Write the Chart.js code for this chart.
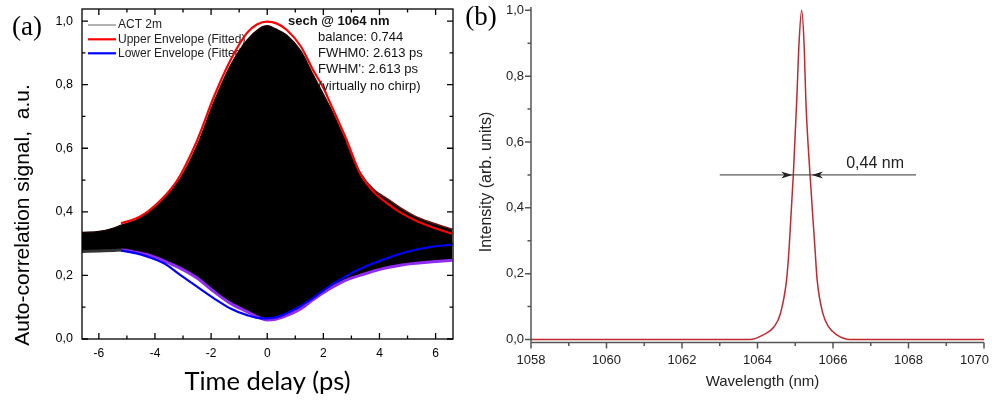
<!DOCTYPE html>
<html>
<head>
<meta charset="utf-8">
<script src="https://cdn.jsdelivr.net/npm/chart.js@4.4.0/dist/chart.umd.min.js"></script>
<style>
  html, body { margin: 0; padding: 0; background: #fff; }
  #wrap { position: relative; width: 992px; height: 402px; overflow: hidden; }
  #chartA { position: absolute; left: 0; top: 0; }
  #chartB { position: absolute; left: 460px; top: 0; }
</style>
</head>
<body>
<div id="wrap">
  <canvas id="chartA" width="460" height="402"></canvas>
  <canvas id="chartB" width="532" height="402"></canvas>
</div>
<script>
// (a) autocorrelation trace, delay in ps
const traceDelay  = [-6.6, -6.0, -5.5, -5.2, -4.7, -4.27, -3.79, -3.4, -3.09, -2.49, -1.9, -1.31, -0.72, -0.3, 0, 0.3, 0.7, 1.2, 1.64, 2.23, 2.83, 3.3, 3.8, 4.3, 4.8, 5.3, 5.9, 6.6];
const traceTop    = [0.335, 0.338, 0.348, 0.358, 0.372, 0.395, 0.43, 0.47, 0.505, 0.61, 0.745, 0.86, 0.94, 0.975, 0.985, 0.975, 0.955, 0.905, 0.83, 0.73, 0.615, 0.525, 0.47, 0.44, 0.41, 0.385, 0.365, 0.345];
const traceBottom = [0.275, 0.277, 0.278, 0.28, 0.273, 0.265, 0.25, 0.235, 0.222, 0.191, 0.149, 0.112, 0.086, 0.068, 0.06, 0.062, 0.074, 0.095, 0.124, 0.158, 0.186, 0.2, 0.214, 0.225, 0.233, 0.238, 0.243, 0.248];

const upperDelay = [-5.21, -4.7, -4.27, -3.79, -3.4, -3.09, -2.49, -1.9, -1.31, -0.72, -0.35, 0, 0.35, 0.7, 1.2, 1.64, 2.0, 2.23, 2.83, 3.3, 3.8, 4.3, 4.8, 5.3, 5.9, 6.6];
const upperFit   = [0.364, 0.378, 0.4, 0.437, 0.475, 0.516, 0.626, 0.762, 0.877, 0.963, 0.99, 0.998, 0.992, 0.972, 0.92, 0.845, 0.79, 0.745, 0.626, 0.522, 0.462, 0.425, 0.395, 0.372, 0.351, 0.331];

const lowerDelay = [-5.21, -4.7, -4.27, -3.68, -3.09, -2.49, -1.9, -1.31, -0.72, -0.2, 0.3, 1.11, 1.7, 2.29, 2.88, 3.47, 4.07, 4.66, 5.25, 5.84, 6.6];
const lowerFit   = [0.278, 0.27, 0.259, 0.238, 0.201, 0.164, 0.128, 0.096, 0.075, 0.065, 0.068, 0.1, 0.133, 0.17, 0.201, 0.227, 0.248, 0.266, 0.28, 0.29, 0.297];

const delayTicks  = [-6, -4, -2, 0, 2, 4, 6];
const delayMinor  = [-5, -3, -1, 1, 3, 5];
const signalTicks = [0, 0.2, 0.4, 0.6, 0.8, 1.0];
const signalMinor = [0.1, 0.3, 0.5, 0.7, 0.9];
const fitNotes = ['balance: 0.744', 'FWHM0: 2.613 ps', "FWHM': 2.613 ps", '(virtually no chirp)'];

// (b) spectrum
const wavelength = [1058, 1063.8, 1064.15, 1064.44, 1064.61, 1064.77, 1064.84, 1064.95, 1065.04, 1065.1, 1065.17, 1065.24, 1065.28, 1065.39, 1065.52, 1065.58, 1065.73, 1065.88, 1066.1, 1066.45, 1070];
const intensity  = [0, 0, 0.014, 0.039, 0.08, 0.181, 0.282, 0.503, 0.728, 0.9, 1.0, 0.88, 0.728, 0.503, 0.282, 0.181, 0.08, 0.039, 0.014, 0, 0];

const wlTicks  = [1058, 1060, 1062, 1064, 1066, 1068, 1070];
const wlMinor  = [1059, 1061, 1063, 1065, 1067, 1069];
const intTicks = [0, 0.2, 0.4, 0.6, 0.8, 1.0];
const intMinor = [0.1, 0.3, 0.5, 0.7, 0.9];

const fwhmEdges = [1064.92, 1065.44];
const fwhmLine  = [1063.0, 1068.2];
const fwhmLevel = 0.5;
const fwhmText  = '0,44 nm';

const SANS = '"Liberation Sans", Arial, sans-serif';
const comma = v => Number(v).toFixed(1).replace('.', ',');
const pts = (xs, ys) => xs.map((x, i) => ({ x: x, y: ys[i] }));

const frameA = {
  id: 'frameA',
  beforeDatasetsDraw(chart) {
    const ctx = chart.ctx;
    const rows = [
      { label: 'ACT 2m', color: '#666', width: 1, y: 25 },
      { label: 'Upper Envelope (Fitted)', color: '#ff0000', width: 2.2, y: 39.3 },
      { label: 'Lower Envelope (Fitted)', color: '#0000ff', width: 2.2, y: 53.3 }
    ];
    ctx.save();
    ctx.font = '12px ' + SANS;
    ctx.textBaseline = 'middle';
    ctx.fillStyle = '#222';
    rows.forEach(r => {
      ctx.strokeStyle = r.color;
      ctx.lineWidth = r.width;
      ctx.beginPath();
      ctx.moveTo(88, r.y);
      ctx.lineTo(116, r.y);
      ctx.stroke();
      ctx.fillText(r.label, 118, r.y);
    });
    ctx.restore();
  },
  afterDatasetsDraw(chart) {
    const { ctx, chartArea: a, scales: { x, y } } = chart;
    ctx.save();
    ctx.strokeStyle = '#000';
    ctx.lineWidth = 1.3;
    ctx.strokeRect(a.left, a.top, a.right - a.left, a.bottom - a.top);
    ctx.beginPath();
    const xt = (vals, len) => vals.forEach(v => {
      const p = x.getPixelForValue(v);
      ctx.moveTo(p, a.bottom); ctx.lineTo(p, a.bottom - len);
      ctx.moveTo(p, a.top); ctx.lineTo(p, a.top + len);
    });
    const yt = (vals, len) => vals.forEach(v => {
      const p = y.getPixelForValue(v);
      ctx.moveTo(a.left, p); ctx.lineTo(a.left + len, p);
      ctx.moveTo(a.right, p); ctx.lineTo(a.right - len, p);
    });
    xt(delayTicks, 6); xt(delayMinor, 3.5);
    yt(signalTicks, 6); yt(signalMinor, 3.5);
    ctx.stroke();

    ctx.fillStyle = '#111';
    ctx.textBaseline = 'middle';
    ctx.font = 'bold 13px ' + SANS;
    ctx.fillText('sech @ 1064 nm', 288, 21);
    ctx.font = '13px ' + SANS;
    fitNotes.forEach((t, i) => ctx.fillText(t, 318, 37 + i * 16.4));
    ctx.restore();
  },
  afterDraw(chart) {
    const { ctx, chartArea: a } = chart;
    ctx.save();
    ctx.fillStyle = '#000';
    ctx.textAlign = 'center';
    ctx.textBaseline = 'middle';
    ctx.font = '25.5px Lato, "Open Sans", sans-serif';
    ctx.fillText('Time delay (ps)', (a.left + a.right) / 2, 382);
    ctx.font = '27px "Liberation Serif", "Times New Roman", serif';
    ctx.fillText('(a)', 27, 28);
    ctx.translate(23, 215);
    ctx.rotate(-Math.PI / 2);
    ctx.font = '21px ' + SANS;
    ctx.fillText('Auto-correlation signal,  a.u.', 0, 0);
    ctx.restore();
  }
};

const frameB = {
  id: 'frameB',
  afterDatasetsDraw(chart) {
    const { ctx, chartArea: a, scales: { x, y } } = chart;
    ctx.save();
    ctx.strokeStyle = '#555';
    ctx.lineWidth = 1.5;
    ctx.beginPath();
    ctx.moveTo(a.left, a.top); ctx.lineTo(a.left, a.bottom); ctx.lineTo(a.right, a.bottom);
    const xt = (vals, len) => vals.forEach(v => {
      const p = x.getPixelForValue(v);
      ctx.moveTo(p, a.bottom); ctx.lineTo(p, a.bottom + len);
    });
    const yt = (vals, len) => vals.forEach(v => {
      const p = y.getPixelForValue(v);
      ctx.moveTo(a.left, p); ctx.lineTo(a.left - len, p);
    });
    xt(wlTicks, 6); xt(wlMinor, 3.5);
    yt(intTicks, 6); yt(intMinor, 3.5);
    ctx.stroke();

    // last wavelength label kept inside the figure, as in the original
    const last = wlTicks[wlTicks.length - 1];
    ctx.fillStyle = '#222';
    ctx.font = '13px ' + SANS;
    ctx.textAlign = 'right';
    ctx.textBaseline = 'middle';
    ctx.fillText(String(last), x.getPixelForValue(last) + 5, 360);
    ctx.textAlign = 'left';

    // FWHM arrows
    const yl = y.getPixelForValue(fwhmLevel);
    const l = x.getPixelForValue(fwhmEdges[0]);
    const r = x.getPixelForValue(fwhmEdges[1]);
    ctx.strokeStyle = '#333';
    ctx.lineWidth = 1;
    ctx.beginPath();
    ctx.moveTo(x.getPixelForValue(fwhmLine[0]), yl);
    ctx.lineTo(x.getPixelForValue(fwhmLine[1]), yl);
    ctx.stroke();
    ctx.beginPath();
    ctx.moveTo(l, yl); ctx.lineTo(l - 11, yl - 3.5); ctx.lineTo(l - 8, yl); ctx.lineTo(l - 11, yl + 3.5); ctx.closePath();
    ctx.moveTo(r, yl); ctx.lineTo(r + 11, yl - 3.5); ctx.lineTo(r + 8, yl); ctx.lineTo(r + 11, yl + 3.5); ctx.closePath();
    ctx.fill();
    ctx.font = '16px ' + SANS;
    ctx.fillText(fwhmText, x.getPixelForValue(1066.35), yl - 11);
    ctx.restore();
  },
  afterDraw(chart) {
    const { ctx, chartArea: a } = chart;
    ctx.save();
    ctx.fillStyle = '#222';
    ctx.textAlign = 'center';
    ctx.textBaseline = 'middle';
    ctx.font = '15px ' + SANS;
    ctx.fillText('Wavelength (nm)', (a.left + a.right) / 2 + 5, 382);
    ctx.fillStyle = '#000';
    ctx.font = '27px "Liberation Serif", "Times New Roman", serif';
    ctx.fillText('(b)', 21, 18);
    ctx.fillStyle = '#222';
    ctx.translate(27, 182);
    ctx.rotate(-Math.PI / 2);
    ctx.font = '16px ' + SANS;
    ctx.fillText('Intensity (arb. units)', 0, 0);
    ctx.restore();
  }
};

const noPad = s => { s.paddingLeft = 0; s.paddingRight = 0; s.paddingTop = 0; s.paddingBottom = 0; };

new Chart(document.getElementById('chartA'), {
  type: 'line',
  data: {
    datasets: [
      { label: 'Upper Envelope (Fitted)', data: pts(upperDelay, upperFit), borderColor: '#ff0000', borderWidth: 2.2 },
      { label: 'Lower Envelope (Fitted)', data: pts(lowerDelay, lowerFit), borderColor: '#0000ff', borderWidth: 2.2 },
      // edges of the ACT trace
      {
        label: 'ACT 2m lower edge', data: pts(traceDelay, traceBottom), borderWidth: 3,
        borderColor: '#8f2cf0',
        segment: { borderColor: c => c.p0.parsed.x < -5.25 ? '#333' : '#8f2cf0' }
      },
      {
        label: 'ACT 2m upper edge', data: pts(traceDelay, traceTop), borderWidth: 1.5,
        borderColor: '#1a0000',
        segment: { borderColor: c => c.p0.parsed.x > 2.5 ? '#6e1212' : '#1a0000' }
      },
      // filled body of the ACT trace
      { label: 'ACT 2m base', data: pts(traceDelay, traceBottom), borderWidth: 0, borderColor: '#000' },
      { label: 'ACT 2m', data: pts(traceDelay, traceTop), borderWidth: 0, borderColor: '#000', backgroundColor: '#000', fill: '-1' }
    ]
  },
  options: {
    responsive: false,
    animation: false,
    devicePixelRatio: 1,
    layout: { padding: { top: 9, right: 7, left: 0, bottom: 0 } },
    elements: { point: { radius: 0 }, line: { cubicInterpolationMode: 'monotone' } },
    plugins: { legend: { display: false }, tooltip: { enabled: false } },
    scales: {
      x: {
        type: 'linear', min: -6.6, max: 6.62,
        grid: { display: false, drawTicks: false }, border: { display: false },
        afterBuildTicks: s => { s.ticks = delayTicks.map(v => ({ value: v })); },
        afterFit: s => { s.height = 63; noPad(s); },
        ticks: { autoSkip: false, maxRotation: 0, padding: 7, color: '#000', font: { family: SANS, size: 12 }, callback: v => String(v) }
      },
      y: {
        type: 'linear', min: 0, max: 1.038,
        grid: { display: false, drawTicks: false }, border: { display: false },
        afterBuildTicks: s => { s.ticks = signalTicks.map(v => ({ value: v })); },
        afterFit: s => { s.width = 82; noPad(s); },
        ticks: { autoSkip: false, padding: 9, color: '#000', font: { family: SANS, size: 12.5 }, callback: v => comma(v) }
      }
    }
  },
  plugins: [frameA]
});

new Chart(document.getElementById('chartB'), {
  type: 'line',
  data: {
    datasets: [
      { label: 'Spectrum', data: pts(wavelength, intensity), borderColor: '#c0292f', borderWidth: 1.5 }
    ]
  },
  options: {
    responsive: false,
    animation: false,
    devicePixelRatio: 1,
    layout: { padding: { top: 7, right: 8, left: 0, bottom: 0 } },
    elements: { point: { radius: 0 }, line: { cubicInterpolationMode: 'monotone' } },
    plugins: { legend: { display: false }, tooltip: { enabled: false } },
    scales: {
      x: {
        type: 'linear', min: 1058, max: 1070,
        grid: { display: false, drawTicks: false }, border: { display: false },
        afterBuildTicks: s => { s.ticks = wlTicks.map(v => ({ value: v })); },
        afterFit: s => { s.height = 59.5; noPad(s); },
        ticks: {
          autoSkip: false, maxRotation: 0, padding: 10, color: '#222', font: { family: SANS, size: 13 },
          callback: v => v === wlTicks[wlTicks.length - 1] ? '' : String(v)
        }
      },
      y: {
        type: 'linear', min: -0.009, max: 1.01,
        grid: { display: false, drawTicks: false }, border: { display: false },
        afterBuildTicks: s => { s.ticks = intTicks.map(v => ({ value: v })); },
        afterFit: s => { s.width = 71; noPad(s); },
        ticks: { autoSkip: false, padding: 7, color: '#222', font: { family: SANS, size: 13 }, callback: v => comma(v) }
      }
    }
  },
  plugins: [frameB]
});
</script>
</body>
</html>
